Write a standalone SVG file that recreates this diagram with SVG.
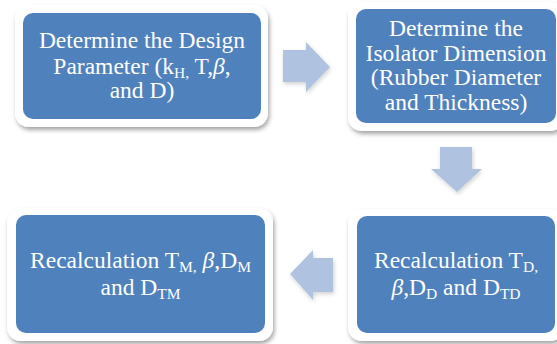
<svg xmlns="http://www.w3.org/2000/svg" width="557" height="344" viewBox="0 0 557 344">
  <defs>
    <filter id="sh" x="-10%" y="-10%" width="125%" height="130%">
      <feDropShadow dx="1.5" dy="3" stdDeviation="2.2" flood-color="#000" flood-opacity="0.35"/>
    </filter>
    <filter id="ash" x="-20%" y="-20%" width="150%" height="150%">
      <feDropShadow dx="1" dy="2" stdDeviation="2" flood-color="#000" flood-opacity="0.18"/>
    </filter>
  </defs>
  <style>
    .outer { fill: #ffffff; filter: url(#sh); }
    .inner { fill: #4f81bd; }
    .arrow { fill: #afc2df; filter: url(#ash); }
    .t { font-family: "Liberation Serif", "Times New Roman", serif; font-size: 23.5px; fill: #ffffff; text-anchor: middle; }
    .s { font-size: 15.5px; }
    .b { font-style: italic; }
  </style>
  <rect width="557" height="344" fill="#ffffff"/>

  <g id="connectors">
    <path class="arrow" d="M283,50 L306,50 L306,42 L330,67 L306,92 L306,82 L283,82 Z"/>
    <path class="arrow" d="M440,147 L472,147 L472,169 L482,169 L457,192 L431,169 L440,169 Z"/>
    <path class="arrow" d="M333,258 L313,258 L313,250 L290,274 L313,300 L313,292 L333,292 Z"/>
  </g>

  <g id="node1">
    <rect class="outer" x="15" y="5" width="253" height="122" rx="14"/>
    <rect class="inner" x="23" y="13" width="238" height="106" rx="10"/>
    <text class="t" x="142" y="48">Determine the Design</text>
    <text class="t" x="142" y="74">Parameter (k<tspan class="s" dy="4">H,</tspan><tspan dy="-4"> T,</tspan><tspan class="b">β</tspan>,</text>
    <text class="t" x="142" y="98">and D)</text>
  </g>

  <g id="node2">
    <rect class="outer" x="348" y="2" width="216" height="129" rx="14"/>
    <rect class="inner" x="356" y="9" width="200" height="114" rx="10"/>
    <text class="t" x="456" y="36">Determine the</text>
    <text class="t" x="456" y="60.5">Isolator Dimension</text>
    <text class="t" x="456" y="85">(Rubber Diameter</text>
    <text class="t" x="456" y="109.5">and Thickness)</text>
  </g>

  <g id="node3">
    <rect class="outer" x="7" y="208" width="266" height="133" rx="14"/>
    <rect class="inner" x="16" y="215" width="249" height="118" rx="10"/>
    <text class="t" x="140.5" y="268">Recalculation T<tspan class="s" dy="4">M,</tspan><tspan dy="-4"> </tspan><tspan class="b">β</tspan>,D<tspan class="s" dy="4">M</tspan></text>
    <text class="t" x="140.5" y="295">and D<tspan class="s" dy="4">TM</tspan></text>
  </g>

  <g id="node4">
    <rect class="outer" x="348" y="209" width="216" height="132" rx="14"/>
    <rect class="inner" x="357" y="216" width="198" height="117" rx="10"/>
    <text class="t" x="456" y="268">Recalculation T<tspan class="s" dy="4">D,</tspan></text>
    <text class="t" x="456" y="295"><tspan class="b">β</tspan>,D<tspan class="s" dy="4">D</tspan><tspan dy="-4"> and D</tspan><tspan class="s" dy="4">TD</tspan></text>
  </g>
</svg>
